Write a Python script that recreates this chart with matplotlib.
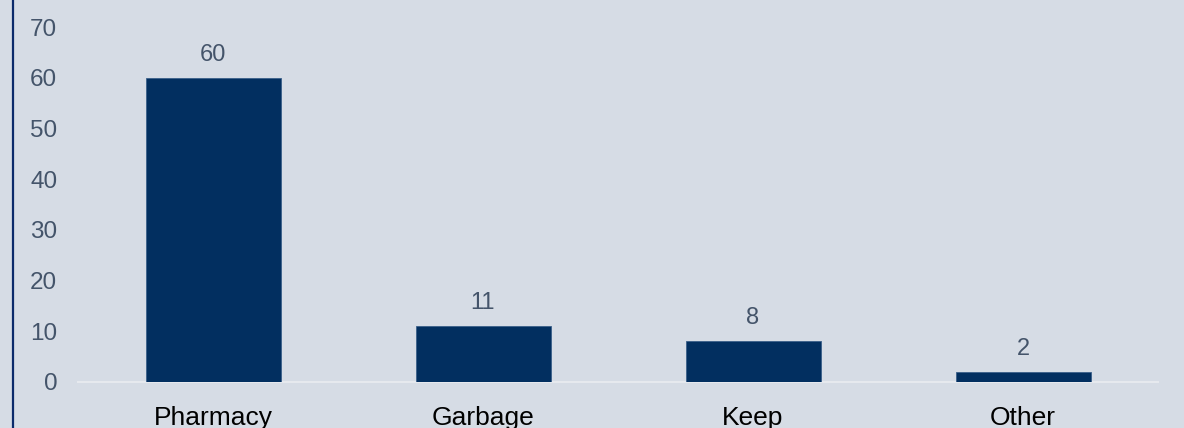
import matplotlib
matplotlib.use("Agg")
import matplotlib.pyplot as plt
from matplotlib.lines import Line2D

# data
categories = ["Pharmacy", "Garbage", "Keep", "Other"]
counts = [60, 11, 8, 2]
yticks = [0, 10, 20, 30, 40, 50, 60, 70]

bg = "#D6DCE5"
bar_color = "#022F60"
label_color = "#44546A"

plt.rcParams["font.family"] = ["Liberation Sans", "DejaVu Sans"]

fig = plt.figure(figsize=(11.84, 4.28), dpi=100, facecolor=bg)
ax = fig.add_axes([78 / 1184, 1 - 382 / 428, 1080 / 1184, 355 / 428])
ax.set_facecolor(bg)

x = list(range(len(categories)))
ax.bar(x, counts, width=0.5, color=bar_color, edgecolor="#3A5F8A", linewidth=0.6, zorder=3)
for xi, v in zip(x, counts):
    ax.text(xi, v + 2.4, str(v), ha="center", va="bottom", fontsize=17, color=label_color)

ax.set_xlim(-0.5, len(categories) - 0.5)
ax.set_ylim(0, 70)
ax.set_yticks(yticks)
ax.set_yticklabels([str(t) for t in yticks], fontsize=17.5, color=label_color)
ax.set_xticks(x)
ax.set_xticklabels(categories, fontsize=19, color="black")
ax.tick_params(axis="both", length=0)
ax.tick_params(axis="y", pad=15)
ax.tick_params(axis="x", pad=17)

for side in ["top", "right", "left"]:
    ax.spines[side].set_visible(False)
ax.spines["bottom"].set_color("#E6E9EE")
ax.spines["bottom"].set_linewidth(1.5)

# dark border on the left edge
fig.add_artist(Line2D([12.5 / 1184, 12.5 / 1184], [0, 1], transform=fig.transFigure,
                      color="#0B2A6B", linewidth=1.6))

fig.savefig("out.png", dpi=100, facecolor=bg)
